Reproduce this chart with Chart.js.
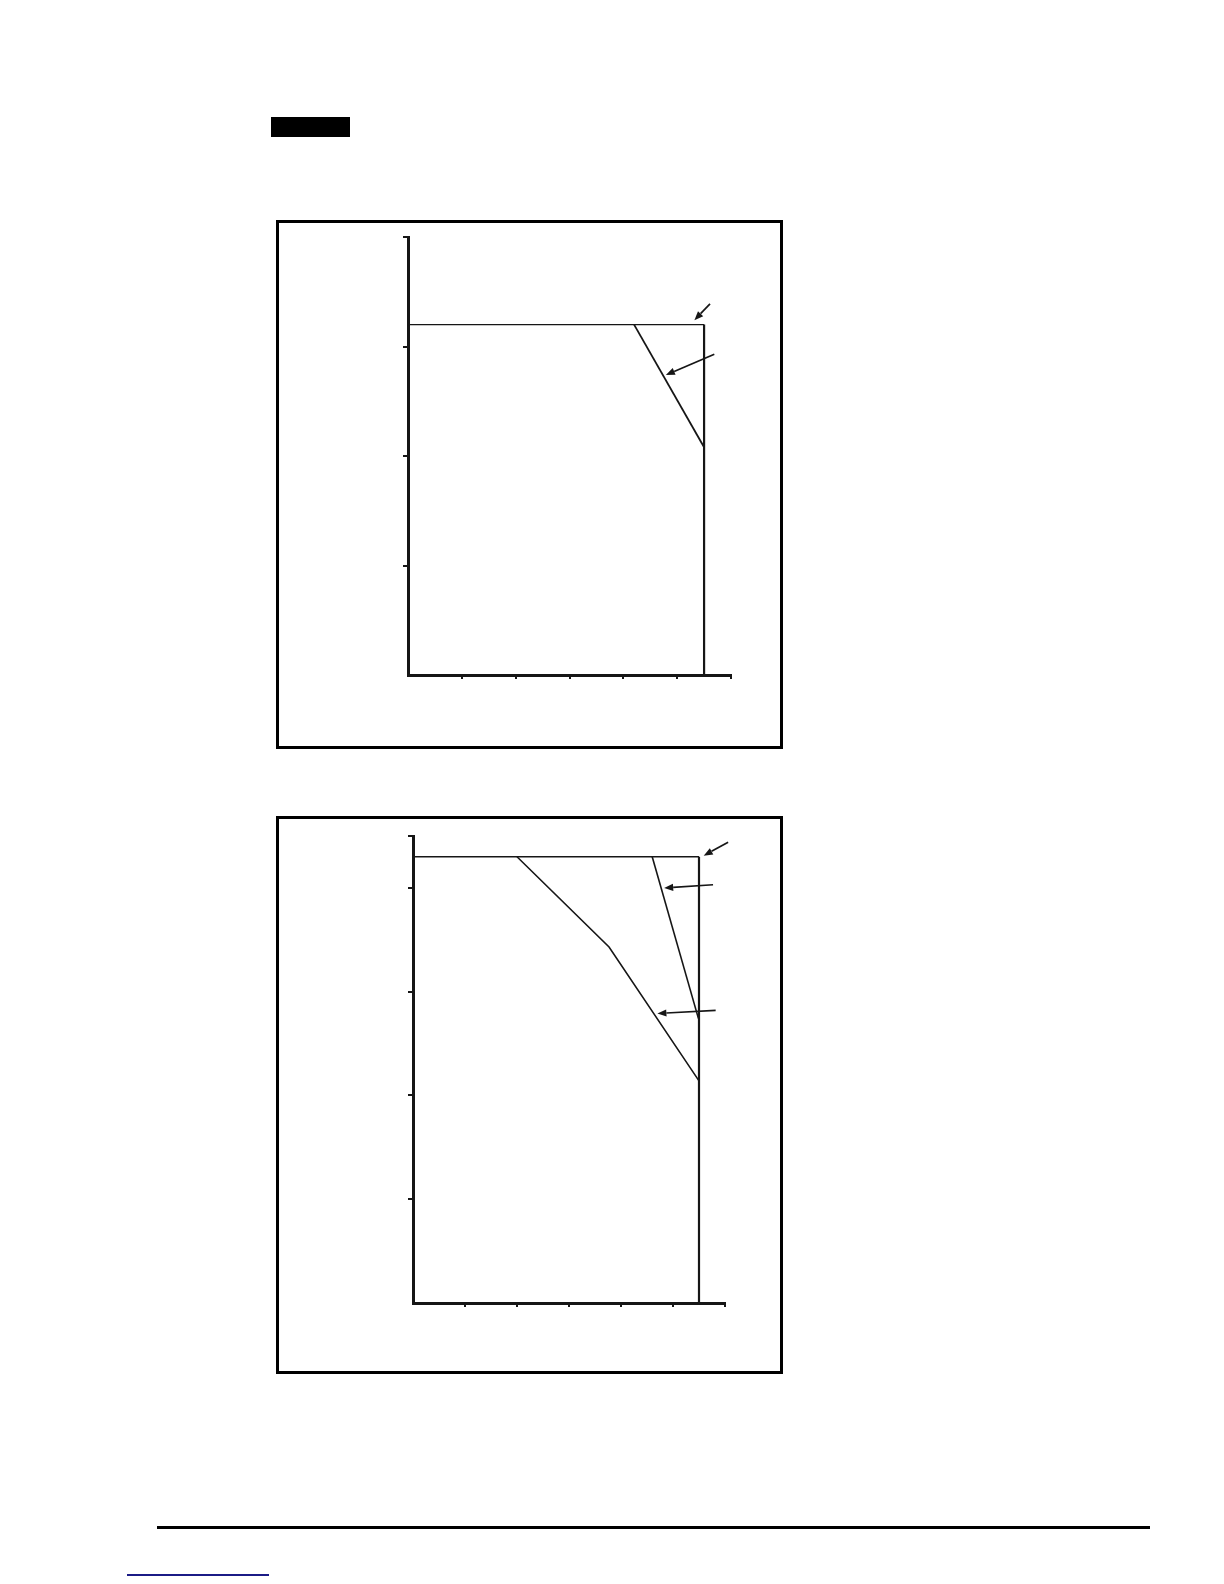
<!DOCTYPE html>
<html>
<head>
<meta charset="utf-8">
<script src="https://cdn.jsdelivr.net/npm/chart.js@4.4.1/dist/chart.umd.min.js"></script>
<style>
  html, body { margin: 0; padding: 0; background: #fff; }
  #page { position: relative; width: 1224px; height: 1584px; overflow: hidden; background: #fff; }
  .frame { position: absolute; border: 3px solid #000; box-sizing: border-box; }
  .plot  { position: absolute; }
  .tag   { position: absolute; left: 271px; top: 117px; width: 79px; height: 20px; background: #000; }
  .rule  { position: absolute; left: 157px; top: 1526px; width: 993px; height: 3px; background: #000; }
  .link  { position: absolute; left: 127px; top: 1574px; width: 142px; height: 2px; background: #1b1b86; }
</style>
</head>
<body>
<div id="page">
  <div class="tag"></div>

  <div class="frame" style="left:276px;top:220px;width:507px;height:529px"></div>
  <div class="plot"  style="left:276px;top:220px;width:507px;height:529px"><canvas id="chartTop"></canvas></div>

  <div class="frame" style="left:276px;top:816px;width:507px;height:558px"></div>
  <div class="plot"  style="left:276px;top:816px;width:507px;height:558px"><canvas id="chartBottom"></canvas></div>

  <div class="rule"></div>
  <div class="link"></div>
</div>

<script>
  /* ── data: upper chart ── */
  const topXTicks      = [1, 2, 3, 4, 5, 6];
  const topYTicks      = [1, 2, 3, 4];
  const topLimitTop    = [{ x: 0, y: 3.2 }, { x: 5.5, y: 3.2 }];
  const topLimitSide   = [{ x: 5.5, y: 3.2 }, { x: 5.5, y: 0 }];
  const topDerate      = [{ x: 4.2, y: 3.2 }, { x: 5.5, y: 2.08 }];
  // arrows: [tailX, tailY, headX, headY] in axis units
  const topArrows      = [
    [5.61, 3.39, 5.32, 3.24],
    [5.69, 2.93, 4.79, 2.74],
  ];

  /* ── data: lower chart ── */
  const botXTicks      = [1, 2, 3, 4, 5, 6];
  const botYTicks      = [1, 2, 3, 4, 4.5];
  const botLimitTop    = [{ x: 0, y: 4.3 }, { x: 5.5, y: 4.3 }];
  const botLimitSide   = [{ x: 5.5, y: 4.3 }, { x: 5.5, y: 0 }];
  const botDerateA     = [{ x: 2.0, y: 4.3 }, { x: 3.77, y: 3.43 }, { x: 5.5, y: 2.14 }];
  const botDerateB     = [{ x: 4.6, y: 4.3 }, { x: 5.49, y: 2.74 }];
  const botArrows      = [
    [6.06, 4.44, 5.59, 4.31],
    [5.77, 4.03, 4.83, 4.00],
    [5.82, 2.82, 4.70, 2.79],
  ];

  const INK = "#161616";

  /* ── arrow plugin ── */
  const arrowPlugin = {
    id: "arrows",
    afterDatasetsDraw(chart, args, opts) {
      const { ctx } = chart;
      const xs = chart.scales.x;
      const ys = chart.scales.y;
      ctx.save();
      ctx.strokeStyle = INK;
      ctx.fillStyle   = INK;
      ctx.lineWidth   = 1.7;
      (opts.list || []).forEach(([tx, ty, hx, hy]) => {
        const x1 = xs.getPixelForValue(tx), y1 = ys.getPixelForValue(ty);
        const x2 = xs.getPixelForValue(hx), y2 = ys.getPixelForValue(hy);
        const ang = Math.atan2(y2 - y1, x2 - x1);
        const len = 9, half = 3.6;
        const bx = x2 - len * Math.cos(ang), by = y2 - len * Math.sin(ang);
        ctx.beginPath();
        ctx.moveTo(x1, y1);
        ctx.lineTo(bx, by);
        ctx.stroke();
        ctx.beginPath();
        ctx.moveTo(x2, y2);
        ctx.lineTo(bx + half * Math.sin(ang), by - half * Math.cos(ang));
        ctx.lineTo(bx - half * Math.sin(ang), by + half * Math.cos(ang));
        ctx.closePath();
        ctx.fill();
      });
      ctx.restore();
    },
  };

  function lineSet(points, width) {
    return {
      data: points,
      borderColor: INK,
      borderWidth: width,
      pointRadius: 0,
      tension: 0,
      fill: false,
      clip: false,
    };
  }

  function axis(ticks, max, tickLen) {
    return {
      type: "linear",
      min: 0,
      max: max,
      afterBuildTicks: (scale) => { scale.ticks = ticks.map((v) => ({ value: v })); },
      ticks: { display: false },
      grid: {
        display: true,
        drawOnChartArea: false,
        drawTicks: true,
        tickLength: tickLen,
        lineWidth: 2,
        color: INK,
      },
      border: { display: true, width: 3, color: INK },
    };
  }

  function makeChart(id, datasets, xTicks, yTicks, yMax, arrows, padding) {
    return new Chart(document.getElementById(id), {
      type: "line",
      data: { datasets },
      options: {
        responsive: true,
        maintainAspectRatio: false,
        animation: false,
        layout: { padding },
        plugins: {
          legend: { display: false },
          tooltip: { enabled: false },
          arrows: { list: arrows },
        },
        scales: {
          x: axis(xTicks, 6, 4),
          y: axis(yTicks, yMax, 5),
        },
      },
      plugins: [arrowPlugin],
    });
  }

  makeChart(
    "chartTop",
    [lineSet(topLimitTop, 1.4), lineSet(topLimitSide, 2.2), lineSet(topDerate, 1.8)],
    topXTicks, topYTicks, 4, topArrows,
    { left: 127, right: 52, top: 17, bottom: 70 }
  );

  makeChart(
    "chartBottom",
    [lineSet(botLimitTop, 1.4), lineSet(botLimitSide, 2.2), lineSet(botDerateA, 1.6), lineSet(botDerateB, 1.6)],
    botXTicks, botYTicks, 4.5, botArrows,
    { left: 132, right: 58, top: 20, bottom: 67 }
  );
</script>
</body>
</html>
